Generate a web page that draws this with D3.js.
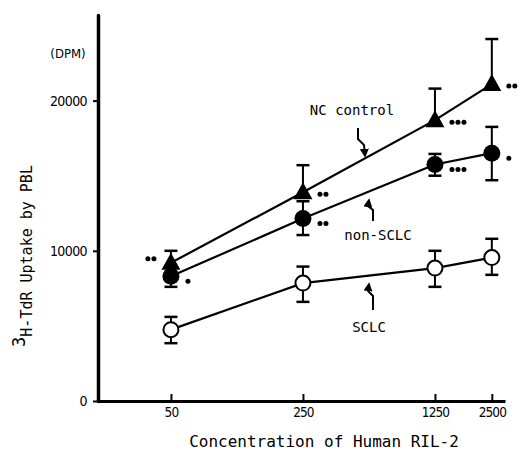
<!DOCTYPE html>
<html>
<head>
<meta charset="utf-8">
<title>3H-TdR uptake by PBL vs RIL-2</title>
<script src="https://d3js.org/d3.v7.min.js"></script>
<style>
  body { margin: 0; background: #fff; }
  text { fill: #000; }
</style>
</head>
<body>
<svg width="519" height="452"></svg>
<script>
// concentrazioni di RIL-2 (asse x, log)
var conc = [50, 250, 1250, 2500];

// NC control (triangoli) - solo barra superiore visibile
var ncMean = [9200, 13900, 18700, 21100];
var ncHi = [10000, 15700, 20800, 24100];
var ncStars = [2, 2, 3, 2];
var ncStarSide = ["left", "right", "right", "right"];

// non-SCLC (cerchi pieni)
var nonMean = [8300, 12150, 15750, 16500];
var nonHi = [9000, 13300, 16450, 18250];
var nonLo = [7600, 11050, 15000, 14700];
var nonStars = [1, 2, 3, 1];

// SCLC (cerchi vuoti)
var scMean = [4750, 7850, 8850, 9550];
var scHi = [5600, 8950, 10000, 10800];
var scLo = [3850, 6600, 7600, 8400];

var yTicks = [0, 10000, 20000];

var svg = d3.select("svg");

var x = d3.scaleLog().domain([20.3, 2936]).range([97, 505]);
var y = d3.scaleLinear().domain([0, 25700]).range([401, 15]);

var mono = "'DejaVu Sans Mono', monospace";
var cond = "'DejaVu Sans Condensed', 'DejaVu Sans', sans-serif";

// assi
var asseY = svg.append("g")
    .attr("transform", "translate(98,0)")
    .call(d3.axisLeft(y).tickValues(yTicks).tickSize(5).tickSizeOuter(0).tickPadding(6).tickFormat(d3.format("d")));
asseY.select(".domain").attr("stroke-width", 3.5).attr("stroke-linecap", "round");
asseY.selectAll(".tick line").attr("stroke-width", 2);
asseY.selectAll(".tick text").style("font-family", cond).style("font-size", "14px").style("letter-spacing", "-0.6px");

var asseX = svg.append("g")
    .attr("transform", "translate(0,401)")
    .call(d3.axisBottom(x).tickValues(conc).tickSizeInner(-7).tickSizeOuter(0).tickPadding(6).tickFormat(d3.format("d")));
asseX.select(".domain").attr("stroke-width", 3.2);
asseX.selectAll(".tick line").attr("stroke-width", 2);
asseX.selectAll(".tick text").style("font-family", cond).style("font-size", "13.5px").style("letter-spacing", "-0.9px");

// etichette assi
svg.append("text")
    .attr("x", 68).attr("y", 58)
    .attr("text-anchor", "middle")
    .style("font-family", cond).style("font-size", "13px")
    .text("(DPM)");

svg.append("text")
    .attr("x", 324).attr("y", 447)
    .attr("text-anchor", "middle")
    .style("font-family", mono).style("font-size", "16px")
    .text("Concentration of Human RIL-2");

var yl = svg.append("text")
    .attr("transform", "translate(32,256) rotate(-90)")
    .attr("text-anchor", "middle")
    .style("font-family", mono).style("font-size", "15px");
yl.append("tspan").attr("dy", -7).style("font-size", "17px").text("3");
yl.append("tspan").attr("dy", 7).text("H-TdR Uptake by PBL");

// linee
var linea = d3.line().x(function (d) { return x(d[0]); }).y(function (d) { return y(d[1]); });
[ncMean, nonMean, scMean].forEach(function (serie) {
    svg.append("path")
        .datum(conc.map(function (c, i) { return [c, serie[i]]; }))
        .attr("d", linea)
        .attr("fill", "none")
        .attr("stroke", "#000")
        .attr("stroke-width", 2.2);
});

// barre di errore
function barre(mean, hi, lo) {
    conc.forEach(function (c, i) {
        var cx = x(c);
        var top = y(hi[i]);
        var bot = lo ? y(lo[i]) : y(mean[i]);
        svg.append("line").attr("x1", cx).attr("x2", cx).attr("y1", top).attr("y2", bot)
            .attr("stroke", "#000").attr("stroke-width", 2);
        svg.append("line").attr("x1", cx - 6.5).attr("x2", cx + 6.5).attr("y1", top).attr("y2", top)
            .attr("stroke", "#000").attr("stroke-width", 2.5);
        if (lo) {
            svg.append("line").attr("x1", cx - 6.5).attr("x2", cx + 6.5).attr("y1", bot).attr("y2", bot)
                .attr("stroke", "#000").attr("stroke-width", 2.5);
        }
    });
}
barre(scMean, scHi, scLo);
barre(nonMean, nonHi, nonLo);
barre(ncMean, ncHi, null);

// marcatori
svg.selectAll(".sclc").data(scMean).enter().append("circle")
    .attr("class", "sclc")
    .attr("cx", function (d, i) { return x(conc[i]); })
    .attr("cy", function (d) { return y(d); })
    .attr("r", 7.5)
    .attr("fill", "#fff").attr("stroke", "#000").attr("stroke-width", 2);

svg.selectAll(".nonsclc").data(nonMean).enter().append("circle")
    .attr("class", "nonsclc")
    .attr("cx", function (d, i) { return x(conc[i]); })
    .attr("cy", function (d) { return y(d); })
    .attr("r", 8.5)
    .attr("fill", "#000");

svg.selectAll(".nc").data(ncMean).enter().append("path")
    .attr("class", "nc")
    .attr("d", function (d, i) {
        var cx = x(conc[i]), cy = y(d);
        return "M" + cx + "," + (cy - 10) + "L" + (cx + 9.5) + "," + (cy + 7) + "L" + (cx - 9.5) + "," + (cy + 7) + "Z";
    })
    .attr("fill", "#000");

// asterischi di significativita (punti)
function stelle(mean, n, side, dy) {
    conc.forEach(function (c, i) {
        for (var k = 0; k < n[i]; k++) {
            var sx = side && side[i] === "left" ? x(c) - 17 - k * 6 : x(c) + 17 + k * 6;
            var sy = y(mean[i]) + (side && side[i] === "left" ? -4 : dy);
            svg.append("circle").attr("cx", sx).attr("cy", sy).attr("r", 2.5).attr("fill", "#000");
        }
    });
}
stelle(ncMean, ncStars, ncStarSide, 2);
stelle(nonMean, nonStars, null, 5);

// etichette serie con frecce
var etichette = [
    { testo: "NC control", x: 352, y: 115 },
    { testo: "non-SCLC", x: 378, y: 240 },
    { testo: "SCLC", x: 369, y: 332 }
];
etichette.forEach(function (e) {
    svg.append("text").attr("x", e.x).attr("y", e.y)
        .attr("text-anchor", "middle")
        .style("font-family", mono).style("font-size", "14px")
        .text(e.testo);
});

svg.append("defs").append("marker")
    .attr("id", "punta").attr("viewBox", "0 0 10 10")
    .attr("refX", 8).attr("refY", 5)
    .attr("markerWidth", 4.5).attr("markerHeight", 4.5)
    .attr("orient", "auto")
    .append("path").attr("d", "M0,0L10,5L0,10Z").attr("fill", "#000");

var frecce = [
    "M358,128 L358,139 L364,145 L365,156",
    "M373,221 L373,210 L368,206 L369,200",
    "M373,310 L373,296 L368,291 L369,284"
];
frecce.forEach(function (d) {
    svg.append("path").attr("d", d)
        .attr("fill", "none").attr("stroke", "#000").attr("stroke-width", 2)
        .attr("marker-end", "url(#punta)");
});
</script>
</body>
</html>
